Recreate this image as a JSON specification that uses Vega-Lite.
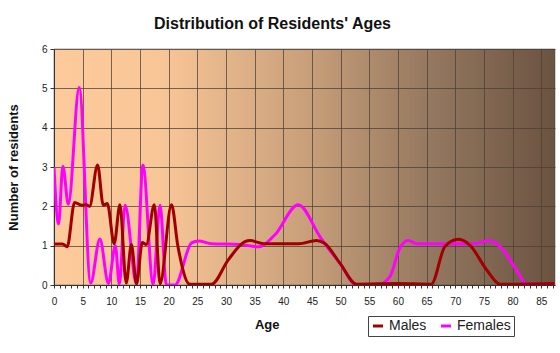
{
  "$schema": "https://vega.github.io/schema/vega-lite/v6.json",
  "width": 501,
  "height": 236,
  "autosize": {"type": "none"},
  "padding": {"left": 54, "top": 49, "right": 5, "bottom": 68},
  "background": "white",
  "title": {
    "text": "Distribution of Residents' Ages",
    "font": "Liberation Sans",
    "fontSize": 16,
    "fontWeight": "bold",
    "color": "#111111",
    "anchor": "middle",
    "frame": "group",
    "dx": -32,
    "offset": 12
  },
  "config": {
    "view": {
      "fill": {
        "gradient": "linear",
        "x1": 0, "y1": 0, "x2": 1, "y2": 0,
        "stops": [
          {"offset": 0, "color": "#fdcb9b"},
          {"offset": 0.22, "color": "#f8c597"},
          {"offset": 0.5, "color": "#c9a07a"},
          {"offset": 0.75, "color": "#957860"},
          {"offset": 1, "color": "#6a5340"}
        ]
      },
      "stroke": "#444444",
      "strokeWidth": 0.5
    },
    "axis": {
      "labelFont": "Liberation Sans",
      "labelFontSize": 10,
      "labelColor": "#222222",
      "titleFont": "Liberation Sans",
      "titleFontSize": 13,
      "titleFontWeight": "bold",
      "titleColor": "#111111",
      "domainColor": "#333333",
      "tickColor": "#333333",
      "gridColor": "#4a4035"
    },
    "legend": {
      "labelFont": "Liberation Sans",
      "labelFontSize": 14,
      "labelColor": "#222222"
    }
  },
  "datasets": {
    "ages": [
      {"age": 0, "n": 3.0, "sex": "Females"},
      {"age": 0.8, "n": 1.55, "sex": "Females"},
      {"age": 1.55, "n": 3.02, "sex": "Females"},
      {"age": 2.5, "n": 2.05, "sex": "Females"},
      {"age": 4.4, "n": 5.02, "sex": "Females"},
      {"age": 6.4, "n": 0.05, "sex": "Females"},
      {"age": 8.0, "n": 1.17, "sex": "Females"},
      {"age": 9.5, "n": 0.04, "sex": "Females"},
      {"age": 10.7, "n": 1.0, "sex": "Females"},
      {"age": 11.4, "n": 0.02, "sex": "Females"},
      {"age": 12.4, "n": 2.03, "sex": "Females"},
      {"age": 14.4, "n": 0.02, "sex": "Females"},
      {"age": 15.5, "n": 3.05, "sex": "Females"},
      {"age": 17.3, "n": 0.02, "sex": "Females"},
      {"age": 18.5, "n": 2.03, "sex": "Females"},
      {"age": 19.6, "n": 0.0, "sex": "Females"},
      {"age": 21.1, "n": 0.0, "sex": "Females"},
      {"age": 24.0, "n": 1.07, "sex": "Females"},
      {"age": 25.2, "n": 1.12, "sex": "Females"},
      {"age": 27.5, "n": 1.05, "sex": "Females"},
      {"age": 32.4, "n": 1.03, "sex": "Females"},
      {"age": 35.8, "n": 0.97, "sex": "Females"},
      {"age": 38.5, "n": 1.27, "sex": "Females"},
      {"age": 42.6, "n": 2.04, "sex": "Females"},
      {"age": 46.4, "n": 1.23, "sex": "Females"},
      {"age": 47.2, "n": 1.06, "sex": "Females"},
      {"age": 49.9, "n": 0.55, "sex": "Females"},
      {"age": 52.8, "n": 0.0, "sex": "Females"},
      {"age": 56.5, "n": 0.0, "sex": "Females"},
      {"age": 58.6, "n": 0.21, "sex": "Females"},
      {"age": 60.3, "n": 0.93, "sex": "Females"},
      {"age": 61.8, "n": 1.13, "sex": "Females"},
      {"age": 63.3, "n": 1.05, "sex": "Females"},
      {"age": 73.1, "n": 1.05, "sex": "Females"},
      {"age": 76.0, "n": 1.13, "sex": "Females"},
      {"age": 77.8, "n": 0.98, "sex": "Females"},
      {"age": 80.7, "n": 0.38, "sex": "Females"},
      {"age": 82.4, "n": 0.03, "sex": "Females"},
      {"age": 87.3, "n": 0.03, "sex": "Females"},
      {"age": 0, "n": 1.04, "sex": "Males"},
      {"age": 1.5, "n": 1.04, "sex": "Males"},
      {"age": 2.3, "n": 0.97, "sex": "Males"},
      {"age": 3.6, "n": 2.1, "sex": "Males"},
      {"age": 4.8, "n": 2.03, "sex": "Males"},
      {"age": 5.6, "n": 2.04, "sex": "Males"},
      {"age": 6.2, "n": 2.0, "sex": "Males"},
      {"age": 7.6, "n": 3.05, "sex": "Males"},
      {"age": 8.6, "n": 2.03, "sex": "Males"},
      {"age": 9.3, "n": 2.07, "sex": "Males"},
      {"age": 10.5, "n": 1.05, "sex": "Males"},
      {"age": 11.5, "n": 2.04, "sex": "Males"},
      {"age": 12.6, "n": 0.05, "sex": "Males"},
      {"age": 13.5, "n": 1.03, "sex": "Males"},
      {"age": 14.4, "n": 0.03, "sex": "Males"},
      {"age": 15.4, "n": 1.08, "sex": "Males"},
      {"age": 16.1, "n": 1.03, "sex": "Males"},
      {"age": 17.5, "n": 2.04, "sex": "Males"},
      {"age": 18.5, "n": 0.03, "sex": "Males"},
      {"age": 20.5, "n": 2.04, "sex": "Males"},
      {"age": 21.6, "n": 1.0, "sex": "Males"},
      {"age": 23.7, "n": 0.02, "sex": "Males"},
      {"age": 27.5, "n": 0.02, "sex": "Males"},
      {"age": 30.4, "n": 0.64, "sex": "Males"},
      {"age": 33.3, "n": 1.1, "sex": "Males"},
      {"age": 34.2, "n": 1.13, "sex": "Males"},
      {"age": 36.6, "n": 1.05, "sex": "Males"},
      {"age": 42.7, "n": 1.05, "sex": "Males"},
      {"age": 45.8, "n": 1.13, "sex": "Males"},
      {"age": 47.2, "n": 1.06, "sex": "Males"},
      {"age": 49.9, "n": 0.55, "sex": "Males"},
      {"age": 52.8, "n": 0.02, "sex": "Males"},
      {"age": 60.0, "n": 0.04, "sex": "Males"},
      {"age": 65.8, "n": 0.02, "sex": "Males"},
      {"age": 68.2, "n": 0.98, "sex": "Males"},
      {"age": 70.5, "n": 1.16, "sex": "Males"},
      {"age": 72.5, "n": 1.02, "sex": "Males"},
      {"age": 75.5, "n": 0.38, "sex": "Males"},
      {"age": 77.8, "n": 0.02, "sex": "Males"},
      {"age": 87.3, "n": 0.04, "sex": "Males"}
    ]
  },
  "data": {"name": "ages"},
  "encoding": {
    "x": {
      "field": "age",
      "type": "quantitative",
      "scale": {"domain": [0, 87.4], "nice": false, "zero": false},
      "axis": {
        "title": "Age",
        "values": [0,1,2,3,4,5,6,7,8,9,10,11,12,13,14,15,16,17,18,19,20,21,22,23,24,25,26,27,28,29,30,31,32,33,34,35,36,37,38,39,40,41,42,43,44,45,46,47,48,49,50,51,52,53,54,55,56,57,58,59,60,61,62,63,64,65,66,67,68,69,70,71,72,73,74,75,76,77,78,79,80,81,82,83,84,85,86,87],
        "labelExpr": "datum.value % 5 === 0 ? datum.label : ''",
        "labelOverlap": false,
        "labelFlush": false,
        "tickSize": 3,
        "labelPadding": 8,
        "grid": true,
        "gridOpacity": {"condition": {"test": "datum.value % 5 === 0 && datum.value > 0", "value": 0.75}, "value": 0},
        "titleX": 212.7,
        "titleY": 43,
        "titleAlign": "center",
        "titleBaseline": "alphabetic"
      }
    },
    "y": {
      "field": "n",
      "type": "quantitative",
      "scale": {"domain": [0, 6], "nice": false},
      "axis": {
        "title": "Number of residents",
        "values": [0,1,2,3,4,5,6],
        "tickSize": 4,
        "labelPadding": 3,
        "grid": true,
        "gridOpacity": 0.75,
        "titleX": -37,
        "titleY": 118,
        "titleAngle": -90,
        "titleAlign": "center",
        "titleBaseline": "alphabetic"
      }
    },
    "color": {
      "field": "sex",
      "type": "nominal",
      "scale": {"domain": ["Males", "Females"], "range": ["#a00000", "#ff00ff"]},
      "legend": {
        "title": null,
        "orient": "none",
        "direction": "horizontal",
        "legendX": 314,
        "legendY": 267,
        "symbolType": "stroke",
        "symbolStrokeWidth": 3,
        "symbolSize": 100,
        "columnPadding": 8,
        "labelOffset": 4,
        "padding": 3,
        "strokeColor": "#444444",
        "fillColor": "white"
      }
    }
  },
  "layer": [
    {
      "transform": [{"filter": "datum.sex === 'Females'"}],
      "mark": {"type": "line", "interpolate": "monotone", "strokeWidth": 3, "clip": true}
    },
    {
      "transform": [{"filter": "datum.sex === 'Males'"}],
      "mark": {"type": "line", "interpolate": "monotone", "strokeWidth": 3, "clip": true}
    }
  ]
}
